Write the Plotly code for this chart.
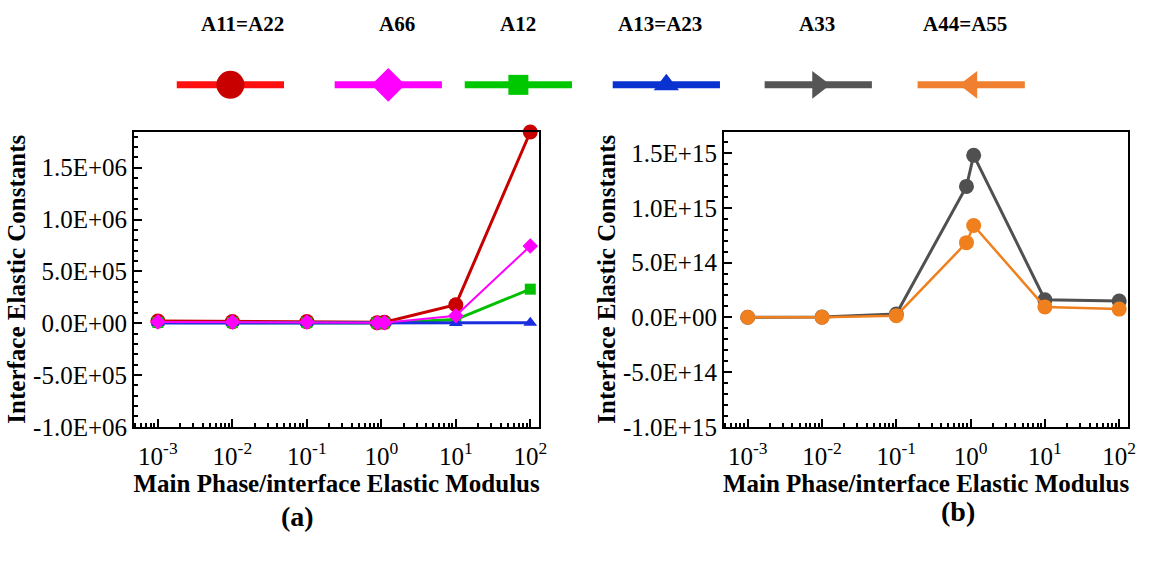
import plotly.graph_objects as go

# ---- data ----
x_ratio = [1e-3, 1e-2, 1e-1, 0.88, 1.1, 10, 100]

A11_A22 = [2.0e4, 1.5e4, 1.5e4, 5e3, 8e3, 1.78e5, 1.845e6]
A66 = [1.2e4, 1.0e4, 1.0e4, 3e3, 5e3, 7.2e4, 7.45e5]
A12 = [6e3, 5e3, 5e3, 2e3, 2e3, 3.5e4, 3.28e5]
A13_A23 = [2e3, 2e3, 2e3, 1e3, 1e3, 2e3, 3e3]

A33 = [0, 2e12, 3.0e13, 1.196e15, 1.48e15, 1.61e14, 1.49e14]
A44_A55 = [0, 1e12, 1.5e13, 6.82e14, 8.39e14, 9.5e13, 7.5e13]

x_tickvals = [1e-3, 1e-2, 1e-1, 1, 10, 100]
x_ticktext = ["10<sup>-3</sup>", "10<sup>-2</sup>", "10<sup>-1</sup>",
              "10<sup>0</sup>", "10<sup>1</sup>", "10<sup>2</sup>"]
y_ticks_a = [-1.0e6, -5.0e5, 0.0, 5.0e5, 1.0e6, 1.5e6]
y_ticks_b = [-1.0e15, -5.0e14, 0.0, 5.0e14, 1.0e15, 1.5e15]

legend_names = ["A11=A22", "A66", "A12", "A13=A23", "A33", "A44=A55"]

# ---- styles ----
FONT = "Liberation Serif"
W, H = 1150, 570

def px_x(p):
    return p / W

def px_y(p):
    return 1 - p / H

fig = go.Figure()

series_a = [
    ("A11=A22", A11_A22, "#c80000", "circle", 15, 3),
    ("A12", A12, "#00c000", "square", 11, 3),
    ("A13=A23", A13_A23, "#1a2ee0", "triangle-up", 12, 3),
    ("A66", A66, "#ff00ff", "diamond", 12, 2),
]
for name, ys, col, sym, ms, lw in series_a:
    fig.add_trace(go.Scatter(x=x_ratio, y=ys, mode="lines+markers", name=name,
                             line=dict(color=col, width=lw),
                             marker=dict(symbol=sym, size=ms, color=col),
                             xaxis="x", yaxis="y", showlegend=False, cliponaxis=False))

series_b = [
    ("A33", A33, "#505050", 3),
    ("A44=A55", A44_A55, "#f0801e", 2.5),
]
for name, ys, col, lw in series_b:
    fig.add_trace(go.Scatter(x=x_ratio, y=ys, mode="lines+markers", name=name,
                             line=dict(color=col, width=lw),
                             marker=dict(symbol="circle", size=15, color=col),
                             xaxis="x2", yaxis="y2", showlegend=False, cliponaxis=False))

# ---- custom legend (label above a long line with a big marker) ----
legend_line_centers = [232, 391, 522, 671, 824, 978]
legend_label_centers = [244, 400, 522, 665, 823, 972]
legend_line_col = ["#ff1010", "#ff00ff", "#00c800", "#0a32d0", "#555555", "#f08030"]
legend_mark_col = ["#c80000", "#ff00ff", "#00c800", "#0a32d0", "#555555", "#f08030"]
legend_syms = ["circle", "diamond", "square", "triangle-up", "triangle-right", "triangle-left"]
legend_sizes = [28, 26, 20, 22, 24, 24]
half_len = 54
line_y = 87
label_y = 25
for name, c, lc_x, lc, mc, sym, ms in zip(legend_names, legend_line_centers, legend_label_centers,
                                          legend_line_col, legend_mark_col, legend_syms, legend_sizes):
    fig.add_trace(go.Scatter(x=[c - half_len, c + half_len], y=[line_y, line_y],
                             mode="lines", line=dict(color=lc, width=7),
                             xaxis="x3", yaxis="y3", showlegend=False, cliponaxis=False,
                             hoverinfo="skip"))
    fig.add_trace(go.Scatter(x=[c], y=[line_y], mode="markers", name=name,
                             marker=dict(symbol=sym, size=ms, color=mc),
                             xaxis="x3", yaxis="y3", showlegend=False, cliponaxis=False))
    fig.add_annotation(x=px_x(lc_x), y=px_y(label_y), xref="paper", yref="paper",
                       xanchor="center", yanchor="middle",
                       text="<b>%s</b>" % name, showarrow=False,
                       font=dict(family=FONT, size=21, color="black"))

axis_common = dict(showline=True, linecolor="black", linewidth=2, mirror=True,
                   ticks="inside", ticklen=8, tickwidth=1.5, tickcolor="black",
                   showgrid=False, zeroline=False,
                   tickfont=dict(family=FONT, size=25, color="black"))

xcommon = dict(axis_common, type="log", range=[-3.32, 2.12],
               tickvals=x_tickvals, ticktext=x_ticktext, ticklabelstandoff=6,
               tickfont=dict(family=FONT, size=25, color="black"),
               minor=dict(ticks="inside", ticklen=4, tickcolor="black", dtick="D1", showgrid=False),
               title=dict(text="Main Phase/interface Elastic Modulus", standoff=5,
                          font=dict(family=FONT, size=25, color="black", weight="bold")))

ycommon_title = dict(text="Interface Elastic Constants", standoff=0,
                     font=dict(family=FONT, size=25, color="black", weight="bold"))

fig.update_layout(
    width=W, height=H,
    margin=dict(l=0, r=0, t=0, b=0),
    paper_bgcolor="white", plot_bgcolor="rgba(0,0,0,0)",
    xaxis=dict(xcommon, domain=[px_x(135), px_x(543)], anchor="y"),
    yaxis=dict(axis_common, domain=[px_y(437.5), px_y(135)], anchor="x",
               range=[-1.0e6, 1.848e6], tickvals=y_ticks_a,
               ticktext=["%.1E" % v for v in y_ticks_a],
               minor=dict(ticks="inside", ticklen=4, tickcolor="black", dtick=1e5),
               title=ycommon_title),
    xaxis2=dict(xcommon, domain=[px_x(729), px_x(1136)], anchor="y2"),
    yaxis2=dict(axis_common, domain=[px_y(437.5), px_y(135)], anchor="x2",
                range=[-1.0e15, 1.696e15], tickvals=y_ticks_b,
                ticktext=["%.1E" % v for v in y_ticks_b],
                minor=dict(ticks="inside", ticklen=4, tickcolor="black", dtick=1e14),
                title=ycommon_title),
    xaxis3=dict(domain=[0, 1], range=[0, W], visible=False, anchor="y3", fixedrange=True),
    yaxis3=dict(domain=[px_y(120), 1], range=[120, 0], visible=False, anchor="x3", fixedrange=True),
    showlegend=False,
)

fig.add_annotation(x=px_x(300), y=px_y(530), xref="paper", yref="paper", text="<b>(a)</b>",
                   xanchor="center", yanchor="middle",
                   showarrow=False, font=dict(family=FONT, size=28, color="black"))
fig.add_annotation(x=px_x(965), y=px_y(524), xref="paper", yref="paper", text="<b>(b)</b>",
                   xanchor="center", yanchor="middle",
                   showarrow=False, font=dict(family=FONT, size=28, color="black"))

fig.write_html("out.html")
